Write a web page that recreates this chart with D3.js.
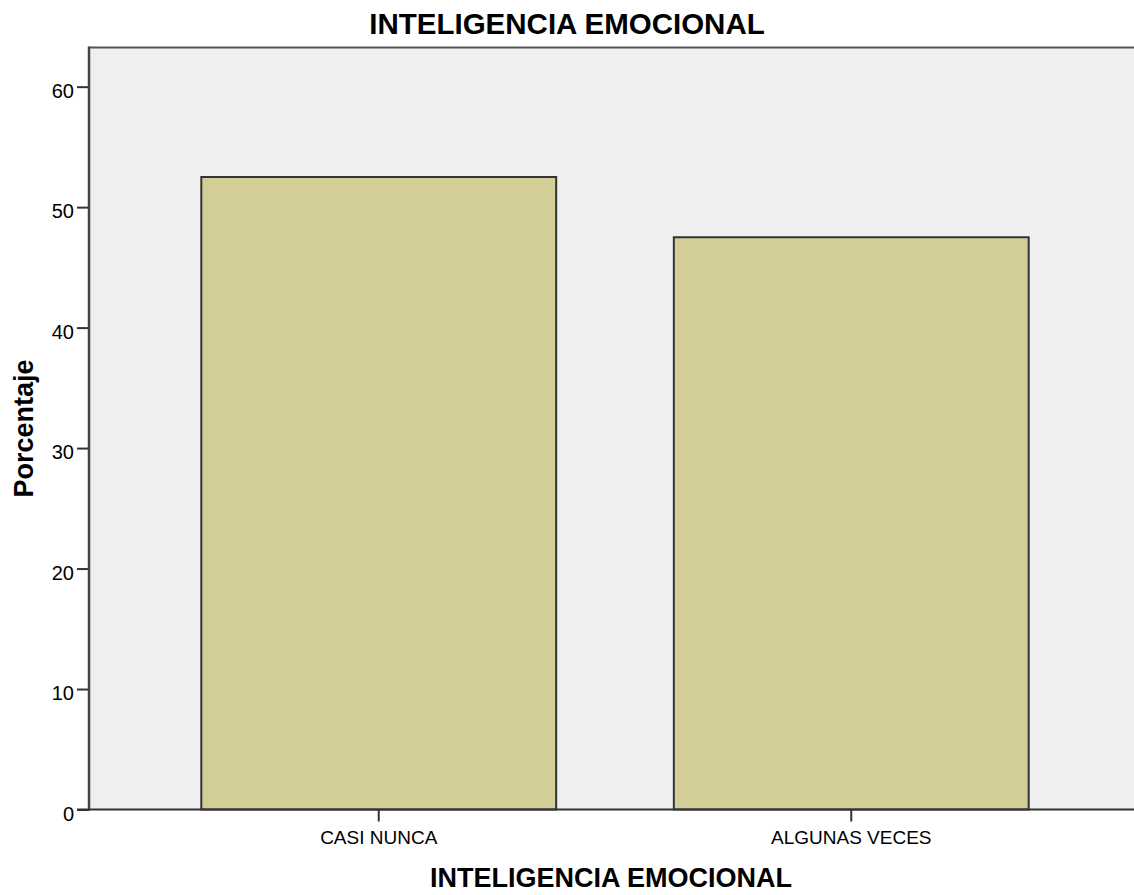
<!DOCTYPE html>
<html>
<head>
<meta charset="utf-8">
<script src="https://cdn.jsdelivr.net/npm/d3@7"></script>
<style>
  html, body { margin: 0; padding: 0; background: #ffffff; }
  svg { display: block; }
  text { font-family: "Liberation Sans", Arial, sans-serif; fill: #000; }
</style>
</head>
<body>
<svg id="chart" width="1134" height="895"></svg>
<script>
const categories = ["CASI NUNCA", "ALGUNAS VECES"];
const percentages = [52.5, 47.5];
const yTicks = [0, 10, 20, 30, 40, 50, 60];
const chartTitle = "INTELIGENCIA EMOCIONAL";
const xTitle = "INTELIGENCIA EMOCIONAL";
const yTitle = "Porcentaje";

const W = 1134, H = 895;
const mLeft = 89, mTop = 47.5, mBottom = 809.5, mRight = 1141;

const svg = d3.select("#chart");

const x = d3.scaleBand().domain(categories).range([mLeft, mRight])
  .paddingInner(0.249).paddingOuter(0.2377);
const y = d3.scaleLinear().domain([0, 63.25]).range([mBottom, mTop]);

// plot background
svg.append("rect").attr("x", mLeft).attr("y", mTop)
  .attr("width", W - mLeft + 10).attr("height", mBottom - mTop)
  .attr("fill", "#efefef");

// top border
svg.append("line").attr("x1", mLeft).attr("x2", W + 5)
  .attr("y1", mTop).attr("y2", mTop)
  .attr("stroke", "#555").attr("stroke-width", 2.2);

// bars
svg.append("g").selectAll("rect").data(categories).join("rect")
  .attr("x", d => x(d))
  .attr("y", (d, i) => y(percentages[i]))
  .attr("width", x.bandwidth())
  .attr("height", (d, i) => y(0) - y(percentages[i]))
  .attr("fill", "#d3ce97")
  .attr("stroke", "#333")
  .attr("stroke-width", 2);

// y axis
const yAxis = d3.axisLeft(y).tickValues(yTicks).tickSize(12).tickPadding(3).tickFormat(d3.format("d"));
const gy = svg.append("g").attr("transform", `translate(${mLeft},0)`).call(yAxis);
gy.select(".domain").remove();
gy.selectAll(".tick line").attr("stroke", "#333").attr("stroke-width", 2);
gy.selectAll(".tick text").attr("font-size", 20).attr("dy", null)
  .attr("y", 10.5).attr("fill", "#222")
  .style("font-family", "'Liberation Sans', Arial, sans-serif");
svg.append("line").attr("x1", mLeft).attr("x2", mLeft)
  .attr("y1", mTop - 1).attr("y2", mBottom + 1)
  .attr("stroke", "#444").attr("stroke-width", 2.5);

// x axis
const xAxis = d3.axisBottom(x).tickSize(12).tickPadding(0);
const gx = svg.append("g").attr("transform", `translate(0,${mBottom})`).call(xAxis);
gx.select(".domain").remove();
gx.selectAll(".tick line").attr("stroke", "#333").attr("stroke-width", 2);
gx.selectAll(".tick text").attr("font-size", 19).attr("dy", null)
  .attr("y", 34).attr("fill", "#222")
  .style("font-family", "'Liberation Sans', Arial, sans-serif");
svg.append("line").attr("x1", mLeft - 12).attr("x2", W + 5)
  .attr("y1", mBottom).attr("y2", mBottom)
  .attr("stroke", "#333").attr("stroke-width", 2.2);

// titles
svg.append("text").attr("x", 567).attr("y", 34.3)
  .attr("text-anchor", "middle").attr("font-size", 29.5).attr("font-weight", "bold")
  .text(chartTitle);
svg.append("text").attr("x", 611).attr("y", 887)
  .attr("text-anchor", "middle").attr("font-size", 27).attr("font-weight", "bold")
  .text(xTitle);
svg.append("text").attr("transform", `translate(33,428.5) rotate(-90)`)
  .attr("text-anchor", "middle").attr("font-size", 27).attr("font-weight", "bold")
  .text(yTitle);
</script>
</body>
</html>
